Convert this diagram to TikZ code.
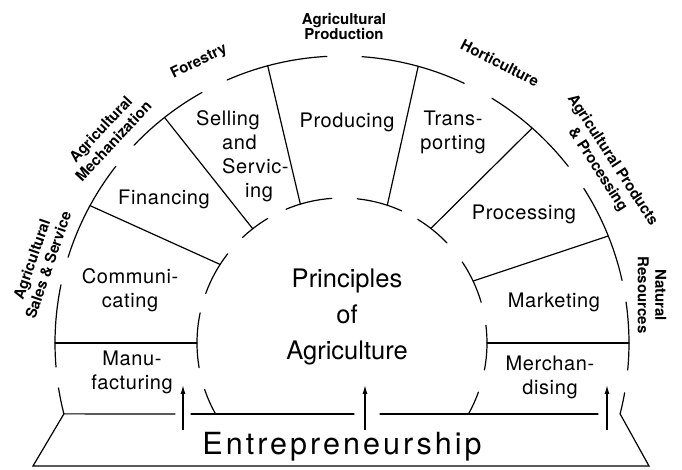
\documentclass[tikz,border=0pt]{standalone}
\usepackage{fontspec}
\setmainfont{TeX Gyre Heros}
\newfontfamily\sectfont[LetterSpace=3]{TeX Gyre Heros}
\newfontfamily\entfont[LetterSpace=10]{TeX Gyre Heros}
\usetikzlibrary{arrows.meta}
\begin{document}
\begin{tikzpicture}[x=1pt,y=1pt,
  ln/.style={line width=1.2pt, line cap=round},
  uparrow/.style={line width=1.2pt, -{Latex[length=9pt,width=5pt]}},
  sect/.style={font=\sectfont\fontsize{20}{24}\selectfont, align=center, inner sep=0pt, anchor=base},
  outerlab/.style={font=\bfseries\fontsize{15}{17.5}\selectfont, align=center, inner sep=0pt},
  centre/.style={font=\fontsize{25.5}{36}\selectfont, align=center, inner sep=0pt, anchor=base},
  entre/.style={font=\entfont\fontsize{30.5}{36}\selectfont, inner sep=0pt, anchor=base}]
\def\Ro{287}
\def\Ri{145}
\useasboundingbox (-342,-127) rectangle (340,343);
\fill[white] (-342,-127) rectangle (340,343);
% outer arc segments
\foreach \a/\b in {-14.3/-10, -5.4/8.2, 12.6/32.6, 38/58.5, 64.8/86, 93/113.6, 119.2/136.4, 142/162.6, 168.3/184.8, 189/194.3}
  \draw[ln] (\a:\Ro) arc[start angle=\a, end angle=\b, radius=\Ro];
% inner arc segments
\foreach \a/\b in {-29.3/-19.8, -10.7/7, 16.3/34, 43.6/58.5, 65.7/84, 94/112.7, 120.8/133.3, 142/160, 168/189.8, 198.7/209.3}
  \draw[ln] (\a:\Ri) arc[start angle=\a, end angle=\b, radius=\Ri];
% spokes
\foreach \n/\o/\i in {1/151.4/147.2, 2/128.2/128, 3/105/106.7, 4/74.6/71.8, 5/48.5/52.2, 6/21.9/25.3, 7/180/180, 8/0/0}{
  \coordinate (so\n) at (\o:\Ro);
  \coordinate (si\n) at (\i:\Ri);
  \draw[ln] (so\n) -- (si\n);
}
% base and trapezoid
\coordinate (tl) at (194.3:\Ro);
\coordinate (tr) at (-14.3:\Ro);
\coordinate (bl) at (-309,-123);
\coordinate (br) at (307,-123);
\coordinate (b1) at (-167,-71);
\coordinate (b2) at (-151,-71);
\coordinate (b3) at (12,-71);
\coordinate (b4) at (38,-71);
\coordinate (b5) at (256,-71);
\draw[ln] (tl) -- (b1);
\draw[ln] (b2) -- (b3);
\draw[ln] (b4) -- (b5);
\draw[ln] (tl) -- (bl) -- (br) -- (tr);
% arrows
\coordinate (a1s) at (-159,-87); \coordinate (a1e) at (-159,-42);
\coordinate (a2s) at (23,-87);   \coordinate (a2e) at (23,-42);
\coordinate (a3s) at (265,-87);  \coordinate (a3e) at (265,-42);
\draw[uparrow] (a1s) -- (a1e);
\draw[uparrow] (a2s) -- (a2e);
\draw[uparrow] (a3s) -- (a3e);
% sector labels (base = last line)
\node[sect] (manu) at (-210,-47) {Manu-\\facturing};
\node[sect] (comm) at (-212,35) {Communi-\\cating};
\node[sect] (fin) at (-178,138) {Financing};
\node[sect, align=left, anchor=base west] (sell) at (-146,145) {Selling\\\hspace*{26pt}and\\\hspace*{26pt}Servic-\\\hspace*{49pt}ing};
\node[sect] (prod) at (5,215) {Producing};
\node[sect] (trans) at (111,193) {Trans-\\porting};
\node[sect] (proc) at (182,123) {Processing};
\node[sect] (mark) at (212,35) {Marketing};
\node[sect] (merch) at (208,-52) {Merchan-\\dising};
\node[centre] (poa) at (5,-17) {Principles\\of\\Agriculture};
\node[entre] (ent) at (0,-112) {Entrepreneurship};
% outer labels
\node[outerlab, anchor=base, font=\bfseries\fontsize{15}{15.5}\selectfont] (agprod) at (2,303) {Agricultural\\Production};
\node[outerlab, rotate=26] (forest) at (-143,281) {Forestry};
\node[outerlab, rotate=47] (mech) at (-235,208) {Agricultural\\Mechanization};
\node[outerlab, rotate=71] (sales) at (-302,81) {Agricultural\\Sales \& Service};
\node[outerlab, rotate=-27] (hort) at (158,280) {Horticulture};
\node[outerlab, rotate=-57] (prodproc) at (263,178) {Agricultural Products\\\& Processing};
\node[outerlab, rotate=-90] (nat) at (310,48) {Natural\\Resources};
\end{tikzpicture}
\end{document}
